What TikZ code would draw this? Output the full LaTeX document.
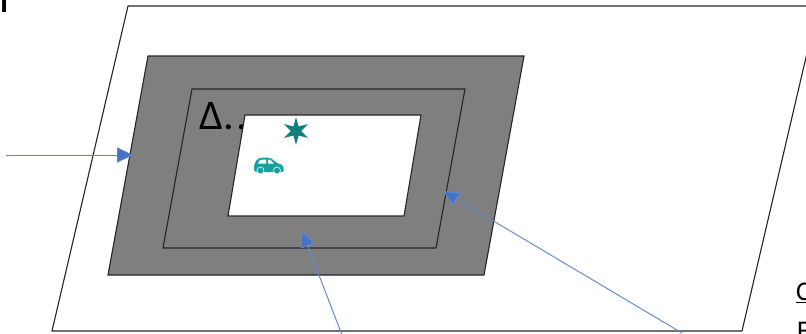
\documentclass[tikz,border=0pt]{standalone}
\usepackage{fontspec}
\setmainfont{Carlito}
\usetikzlibrary{arrows.meta,shapes.geometric}
\definecolor{arrowblue}{HTML}{4472C4}
\definecolor{startteal}{HTML}{0F7F7F}
\definecolor{carteal}{HTML}{17A2A2}
\definecolor{zonegray}{HTML}{7F7F7F}
\begin{document}
\begin{tikzpicture}[x=0.03cm,y=-0.03cm,
zone/.style={draw=black!85,line width=0.95pt},
arr/.style={draw=arrowblue!85,line width=0.8pt,-{Triangle[length=0.48cm,width=0.46cm,fill=arrowblue]}},
lbl/.style={inner sep=0pt,anchor=base west,text=black}]
\useasboundingbox (0,0) rectangle (806,333);
\clip (0,0) rectangle (806,333);
\draw[zone,fill=white] (128,6)--(818,6)--(742,331)--(52,331)--cycle;
\draw[zone,fill=zonegray] (148,56)--(524,56)--(484,275)--(108,275)--cycle;
\draw[zone] (192,89)--(465,89)--(436,248)--(163,248)--cycle;
\node[lbl,font=\fontsize{36}{36}\selectfont] (delta) at (199,129) {Δ.\kern2pt.};
\draw[zone,fill=white] (245,115)--(421,115)--(404,216)--(228,216)--cycle;
\node[star,star points=6,star point ratio=2.6,fill=startteal,inner sep=0pt,minimum size=0.82cm] (target) at (296,131) {};
% car
\fill[carteal,rounded corners=1.5pt] (254,172) -- (254,165) -- (257,159) -- (262,157.5) -- (270,157.5) -- (277,163) -- (283,165) -- (284,172) -- cycle;
\fill[white] (258,163.5) -- (260,160) -- (266,159.5) -- (266,163.5) -- cycle (268,159.5) -- (270,159.5) -- (274,163.5) -- (268,163.5) -- cycle;
\node[circle,fill=carteal,draw=white,line width=0.5pt,inner sep=0pt,minimum size=0.21cm] (wheelA) at (260.5,170.5) {};
\node[circle,fill=carteal,draw=white,line width=0.5pt,inner sep=0pt,minimum size=0.21cm] (wheelB) at (277,170.5) {};
\coordinate (leftend) at (6,155);
\coordinate (lefttip) at (133,155);
\coordinate (midend) at (342,335);
\coordinate (midtip) at (302,231);
\coordinate (rightend) at (682,333);
\coordinate (righttip) at (443,191);
\draw[arr] (leftend)--(lefttip);
\draw[arr] (midend)--(midtip);
\draw[arr] (rightend)--(righttip);
\node[lbl,font=\fontsize{26}{26}\bfseries\selectfont] (cornerA) at (0,12) {I};
\node[lbl,font=\fontsize{23}{23}\selectfont] (cornerB) at (796,300) {\underline{C}};
\node[lbl,font=\fontsize{23}{23}\selectfont] (cornerC) at (797,339) {F};
\end{tikzpicture}
\end{document}
